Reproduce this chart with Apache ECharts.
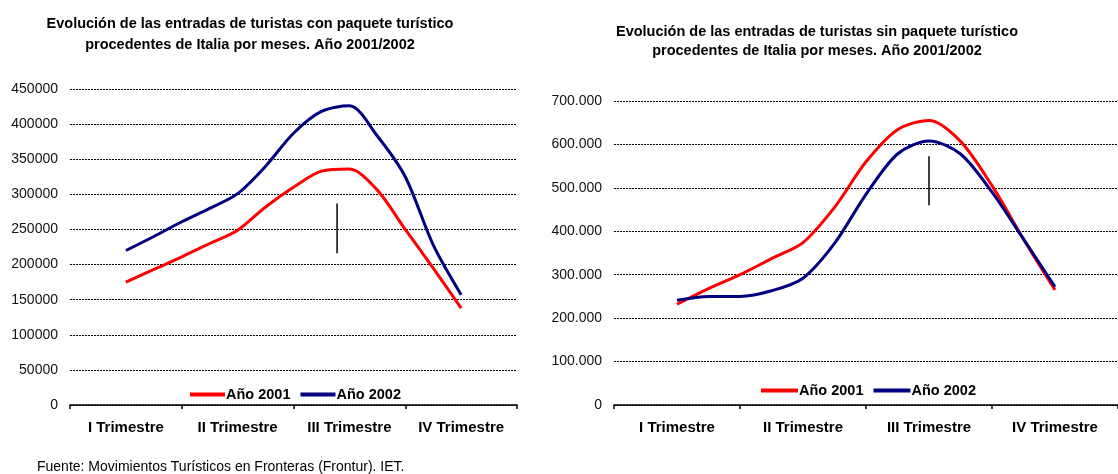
<!DOCTYPE html>
<html>
<head>
<meta charset="utf-8">
<script src="https://cdn.jsdelivr.net/npm/echarts@6/dist/echarts.min.js"></script>
<style>
  html, body { margin: 0; padding: 0; background: #fff; }
  #chart { width: 1118px; height: 474px; }
</style>
</head>
<body>
<div id="chart"></div>
<script>
// trimestres del eje
let quarters = ['I Trimestre', 'II Trimestre', 'III Trimestre', 'IV Trimestre'];

// posiciones de lectura, en unidades de trimestre (0 = inicio del eje)
let xs = [0.5, 0.75, 1.0, 1.25, 1.5, 1.75, 2.0, 2.25, 2.5, 2.75, 3.0, 3.25, 3.5];

// con paquete turístico
let conPaquete2001 = [175000, 193000, 211000, 230000, 249000, 282000, 310000, 333000, 336000, 306000, 250000, 195000, 138000];
let conPaquete2002 = [220000, 240000, 261000, 280000, 301000, 340000, 387000, 418000, 426000, 383000, 325000, 228000, 157000];

// sin paquete turístico
let sinPaquete2001 = [232000, 268000, 300000, 337000, 374000, 455000, 560000, 634000, 655000, 607000, 505000, 382000, 265000];
let sinPaquete2002 = [241000, 250000, 250000, 263000, 292000, 372000, 485000, 578000, 608000, 578000, 490000, 382000, 272000];

// pequeñas marcas verticales del original
let marcaCon = [[2.39, 216000], [2.39, 287000]];
let marcaSin = [[2.5, 460000], [2.5, 573000]];

function pairs(values) {
    return values.map(function (v, i) { return [xs[i], v]; });
}

function formatMiles(v) {
    if (v === 0) return '0';
    return String(v).replace(/\B(?=(\d{3})+(?!\d))/g, '.');
}

function formatPlano(v) {
    return String(v);
}

let myChart = echarts.init(document.getElementById('chart'));

let fontFam = 'Liberation Sans, Arial, sans-serif';

let gridLine = {
    show: true,
    lineStyle: { color: '#000', width: 1, type: [2, 1] }
};

function catAxis(gridIndex) {
    return {
        type: 'category',
        gridIndex: gridIndex,
        data: quarters,
        boundaryGap: true,
        axisLine: { show: true, lineStyle: { color: '#000', width: 1.5 } },
        axisTick: { show: true, length: 4, lineStyle: { color: '#000', width: 1.5 } },
        axisLabel: {
            color: '#000', fontSize: 15, fontWeight: 'bold', fontFamily: fontFam, margin: 15,
            interval: 0, hideOverlap: false
        },
        splitLine: { show: false }
    };
}

function posAxis(gridIndex) {
    return {
        type: 'value',
        gridIndex: gridIndex,
        min: 0,
        max: 4,
        show: false
    };
}

function valAxis(gridIndex, max, interval, formatter) {
    return {
        type: 'value',
        gridIndex: gridIndex,
        min: 0,
        max: max,
        interval: interval,
        axisLine: { show: false },
        axisTick: { show: false },
        axisLabel: { color: '#111', fontSize: 14, fontFamily: fontFam, margin: 12, formatter: formatter },
        splitLine: gridLine
    };
}

function lineSeries(name, values, color, xIdx, yIdx) {
    return {
        name: name,
        type: 'line',
        xAxisIndex: xIdx,
        yAxisIndex: yIdx,
        data: pairs(values),
        smooth: 0.3,
        showSymbol: false,
        lineStyle: { color: color, width: 3 },
        itemStyle: { color: color },
        z: 3
    };
}

function marcaSeries(data, xIdx, yIdx) {
    return {
        type: 'line',
        xAxisIndex: xIdx,
        yAxisIndex: yIdx,
        data: data,
        showSymbol: false,
        silent: true,
        lineStyle: { color: '#000', width: 1.5 },
        z: 4
    };
}

function leyenda(left, top, itemWidth) {
    return {
        data: ['Año 2001', 'Año 2002'],
        left: left,
        top: top,
        icon: 'rect',
        itemWidth: itemWidth,
        itemHeight: 4,
        itemGap: 10,
        textStyle: { fontSize: 14.5, fontWeight: 'bold', color: '#000', fontFamily: fontFam, padding: [0, 0, 0, -4] }
    };
}

let titleStyle = { fontSize: 14.5, fontWeight: 'bold', color: '#000', lineHeight: 21, fontFamily: fontFam };

let option = {
    backgroundColor: '#fff',
    animation: false,
    textStyle: { fontFamily: fontFam },
    title: [{
        text: 'Evolución de las entradas de turistas con paquete turístico\nprocedentes de Italia por meses. Año 2001/2002',
        left: 245,
        top: 8,
        textAlign: 'center',
        textStyle: titleStyle
    }, {
        text: 'Evolución de las entradas de turistas sin paquete turístico\nprocedentes de Italia por meses. Año 2001/2002',
        left: 812,
        top: 17,
        textAlign: 'center',
        textStyle: Object.assign({}, titleStyle, { lineHeight: 19 })
    }, {
        text: 'Fuente: Movimientos Turísticos en Fronteras (Frontur). IET.',
        left: 32,
        top: 455,
        textStyle: { fontSize: 14, fontWeight: 'normal', color: '#000', fontFamily: fontFam }
    }],
    legend: [leyenda(185, 382, 35), leyenda(756, 378, 37)],
    grid: [
        { left: 70, top: 89, width: 447, height: 316 },
        { left: 614, top: 101, width: 517, height: 304 }
    ],
    xAxis: [catAxis(0), posAxis(0), catAxis(1), posAxis(1)],
    yAxis: [
        valAxis(0, 450000, 50000, formatPlano),
        valAxis(1, 700000, 100000, formatMiles)
    ],
    series: [
        lineSeries('Año 2001', conPaquete2001, '#ff0000', 1, 0),
        lineSeries('Año 2002', conPaquete2002, '#000080', 1, 0),
        marcaSeries(marcaCon, 1, 0),
        lineSeries('Año 2001', sinPaquete2001, '#ff0000', 3, 1),
        lineSeries('Año 2002', sinPaquete2002, '#000080', 3, 1),
        marcaSeries(marcaSin, 3, 1)
    ]
};

myChart.setOption(option);
</script>
</body>
</html>
